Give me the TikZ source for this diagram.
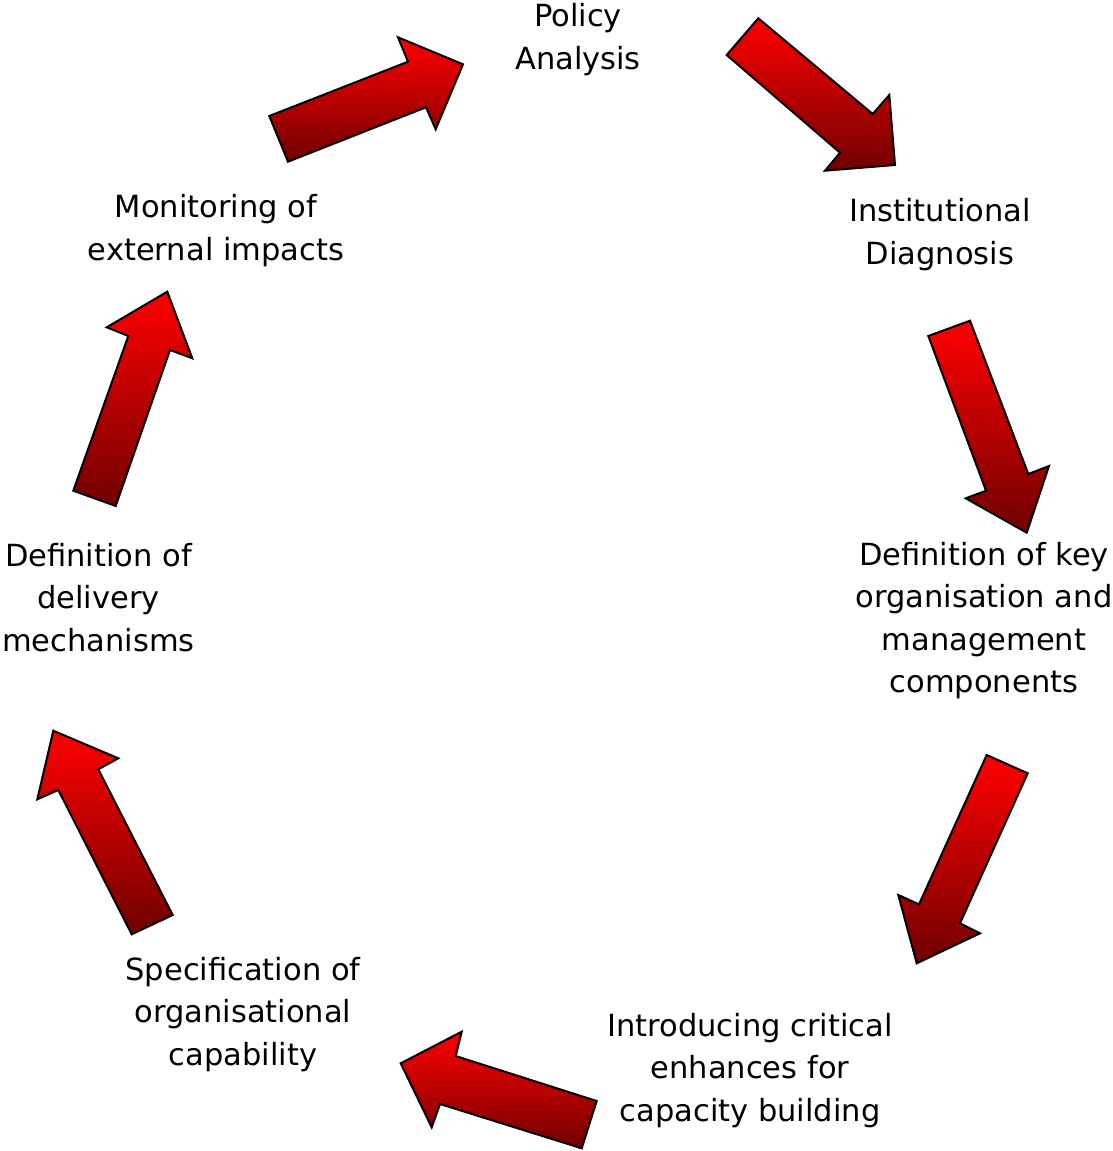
\documentclass[tikz,border=0pt]{standalone}
\usepackage{fontspec}
\setmainfont{DejaVu Sans}
\definecolor{arrtop}{RGB}{255,0,0}
\definecolor{arrbot}{RGB}{112,0,0}
\begin{document}
\begin{tikzpicture}[x=1pt,y=-1pt,
  blockarrow/.style={draw=black,line width=2pt,line join=miter,top color=arrtop,bottom color=arrbot},
  lbl/.style={align=center,inner sep=0pt,anchor=base,font=\fontsize{30.5}{42.5}\selectfont}]
\useasboundingbox (0,0) rectangle (1112,1151);
% labels (anchor = baseline of the last line)
\node[lbl] (policy) at (578,69) {Policy\\Analysis};
\node[lbl] (inst) at (940,264) {Institutional\\Diagnosis};
\node[lbl] (defkey) at (984,692.5) {Definition of key\\organisation and\\management\\components};
\node[lbl] (intro) at (750,1121) {Introducing critical\\enhances for\\capacity building};
\node[lbl] (spec) at (243,1065) {Specification of\\organisational\\capability};
\node[lbl] (deliv) at (98.5,651) {Definition of\\delivery\\mechanisms};
\node[lbl] (monit) at (216,260) {Monitoring of\\external impacts};
% block arrows
\path[blockarrow] (269.3,116) -- (408,61.7) -- (398,37.3) -- (463,64.3) -- (435.7,129.3) -- (426,107.3) -- (288,161.7) -- cycle;
\path[blockarrow] (758.3,18.3) -- (872.7,114) -- (889.3,95) -- (895,165) -- (825,170.7) -- (840,152.7) -- (726.7,55) -- cycle;
\path[blockarrow] (928.3,336) -- (970,320.7) -- (1028.3,474) -- (1049,466) -- (1026.7,532.7) -- (965.7,498.3) -- (986,490.7) -- cycle;
\path[blockarrow] (986.7,755) -- (1027.7,773.3) -- (960,923.3) -- (980,933.3) -- (916.7,963.3) -- (898.3,895) -- (919,904.3) -- cycle;
\path[blockarrow] (596.7,1101) -- (455.7,1056) -- (461.7,1031.7) -- (400.7,1063.3) -- (431.7,1127.3) -- (440,1104) -- (581.7,1148.3) -- cycle;
\path[blockarrow] (172.7,915) -- (98.3,769.3) -- (118.3,758.3) -- (53.3,730.7) -- (37.3,799.3) -- (58.3,790) -- (131.7,934.3) -- cycle;
\path[blockarrow] (73.3,490.7) -- (128.3,336) -- (106.7,327.3) -- (167.3,291.7) -- (192.3,358.3) -- (170,350) -- (115.7,506) -- cycle;
\end{tikzpicture}
\end{document}
